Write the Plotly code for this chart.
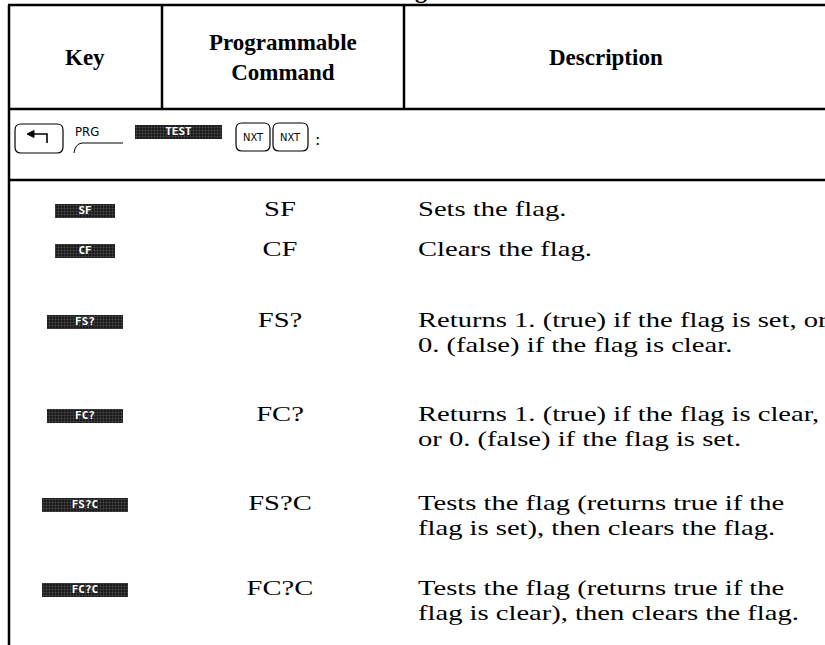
import plotly.graph_objects as go

# ---------------- data ----------------
key_labels = ["SF", "CF", "FS?", "FC?", "FS?C", "FC?C"]
commands = ["SF", "CF", "FS?", "FC?", "FS?C", "FC?C"]
descriptions = [
    ["Sets the flag."],
    ["Clears the flag."],
    ["Returns 1. (true) if the flag is set, or", "0. (false) if the flag is clear."],
    ["Returns 1. (true) if the flag is clear,", "or 0. (false) if the flag is set."],
    ["Tests the flag (returns true if the", "flag is set), then clears the flag."],
    ["Tests the flag (returns true if the", "flag is clear), then clears the flag."],
]
headers = ["Key", "Programmable<br>Command", "Description"]
menu_label = "TEST"
shift_label = "PRG"
nxt_label = "NXT"

# ---------------- layout constants ----------------
W, H = 825, 645
LEFT, COL1, COL2, TOP = 9, 162, 404, 5
HEAD_BOTTOM, SEQ_BOTTOM = 109, 180
ROW_Y = [211, 251, 322, 416, 505, 590]
LINE_GAP = 25
KEY_CX, CMD_CX, DESC_X = 85, 280, 418
KEY_H = 14
SERIF = "Liberation Serif, Times New Roman, serif"
FS = 22
STRETCH = 1.3

fig = go.Figure()

def key_w(lbl):
    return 46 + 10 * len(lbl) if len(lbl) > 2 else 60

kx0 = [KEY_CX - key_w(k) / 2 for k in key_labels]
kw = [key_w(k) for k in key_labels]
seq_y = 132
fig.add_trace(go.Bar(
    orientation="h", y=ROW_Y + [seq_y], x=kw + [87], base=kx0 + [135], width=KEY_H,
    marker=dict(color="#1a1a1a", line=dict(width=0),
                pattern=dict(shape="+", fgcolor="#9a9a9a", bgcolor="#1a1a1a", size=3, solidity=0.25)),
    hoverinfo="skip", showlegend=False))

# key labels (white pixel-ish)
fig.add_trace(go.Scatter(
    x=[KEY_CX] * len(key_labels) + [178.5], y=ROW_Y + [seq_y], mode="text",
    text=key_labels + [menu_label],
    textfont=dict(family="DejaVu Sans Mono", size=11, color="white", weight="bold"),
    hoverinfo="skip", showlegend=False))

# command column
fig.add_trace(go.Scatter(
    x=[CMD_CX] * len(commands), y=ROW_Y, mode="text", text=commands,
    textfont=dict(family=SERIF, size=FS, color="black"),
    hoverinfo="skip", showlegend=False))

# description lines
dx, dy, dt = [], [], []
for ry, lines in zip(ROW_Y, descriptions):
    for i, ln in enumerate(lines):
        dx.append(DESC_X)
        dy.append(ry + i * LINE_GAP)
        dt.append(ln)
fig.add_trace(go.Scatter(
    x=dx, y=dy, mode="text", text=dt, textposition="middle right",
    textfont=dict(family=SERIF, size=FS, color="black"),
    hoverinfo="skip", showlegend=False))

# header
hx = [KEY_CX, 283, 606]
for x, t in zip(hx, headers):
    fig.add_annotation(x=x, y=(TOP + HEAD_BOTTOM) / 2, text=f"<b>{t}</b>", showarrow=False,
                       font=dict(family=SERIF, size=23, color="black"), xanchor="center", yanchor="middle")

# title fragment (cut off at top, as in the reference)
fig.add_annotation(x=421, y=5, text="<b>g</b>", showarrow=False, yanchor="bottom",
                   font=dict(family=SERIF, size=24, color="black"))

# key sequence row
fig.add_annotation(x=73, y=131, text=shift_label, showarrow=False, xanchor="left",
                   font=dict(family="DejaVu Sans Condensed, DejaVu Sans", size=13, color="black"))
for x in [253, 290.5]:
    fig.add_annotation(x=x, y=137, text=nxt_label, showarrow=False,
                       font=dict(family="DejaVu Sans Condensed, DejaVu Sans", size=11, color="black"))
fig.add_annotation(x=317, y=139, text=":", showarrow=False,
                   font=dict(family="DejaVu Sans", size=16, color="black"))

shapes = []
line = dict(color="black", width=2.5)
shapes.append(dict(type="line", x0=LEFT - 1, x1=W + 5, y0=TOP, y1=TOP, line=line))
shapes.append(dict(type="line", x0=LEFT, x1=LEFT, y0=TOP, y1=H + 5, line=line))
for cx in [COL1, COL2]:
    shapes.append(dict(type="line", x0=cx, x1=cx, y0=TOP, y1=HEAD_BOTTOM, line=line))
for yy in [HEAD_BOTTOM, SEQ_BOTTOM]:
    shapes.append(dict(type="line", x0=LEFT, x1=W + 5, y0=yy, y1=yy, line=line))

def rrect(x0, y0, x1, y1, r=5):
    return (f"M{x0+r},{y0} L{x1-r},{y0} Q{x1},{y0} {x1},{y0+r} L{x1},{y1-r} Q{x1},{y1} {x1-r},{y1} "
            f"L{x0+r},{y1} Q{x0},{y1} {x0},{y1-r} L{x0},{y0+r} Q{x0},{y0} {x0+r},{y0} Z")
kl = dict(color="black", width=1.2)
shapes.append(dict(type="path", path=rrect(15, 124, 63, 153, 6), line=kl))
shapes.append(dict(type="path", path=rrect(236, 123, 270, 151, 6), line=kl))
shapes.append(dict(type="path", path=rrect(273, 123, 308, 151, 6), line=kl))
shapes.append(dict(type="path", path="M30,134 L47,134 L47,143", line=dict(color="black", width=1.6)))
shapes.append(dict(type="path", path="M27,134 L34,130.5 L34,137.5 Z", fillcolor="black", line=dict(color="black", width=1)))
shapes.append(dict(type="path", path="M74,153 Q75,144 82,143 L123,143", line=dict(color="black", width=1)))

fig.update_layout(
    width=W, height=H, margin=dict(l=0, r=0, t=0, b=0),
    paper_bgcolor="white", plot_bgcolor="white", shapes=shapes,
    xaxis=dict(range=[0, W], visible=False, fixedrange=True),
    yaxis=dict(range=[H, 0], visible=False, fixedrange=True),
    bargap=0, showlegend=False,
)

post = """
document.body.style.margin = '0';
var gd = document.getElementById('{plot_id}');
var trs = gd.querySelectorAll('.scatterlayer .trace');
function stretch(tr, origin, s) {
  if (!tr) return;
  tr.querySelectorAll('text').forEach(function(t) {
    t.style.transformBox = 'fill-box';
    t.style.transformOrigin = origin;
    t.style.transform = 'scaleX(' + s + ')';
  });
}
stretch(trs[1], 'center center', %s);
stretch(trs[2], 'left center', %s);
""" % (STRETCH, STRETCH)

fig.write_html("out.html", post_script=post, config={"displayModeBar": False, "staticPlot": True})
